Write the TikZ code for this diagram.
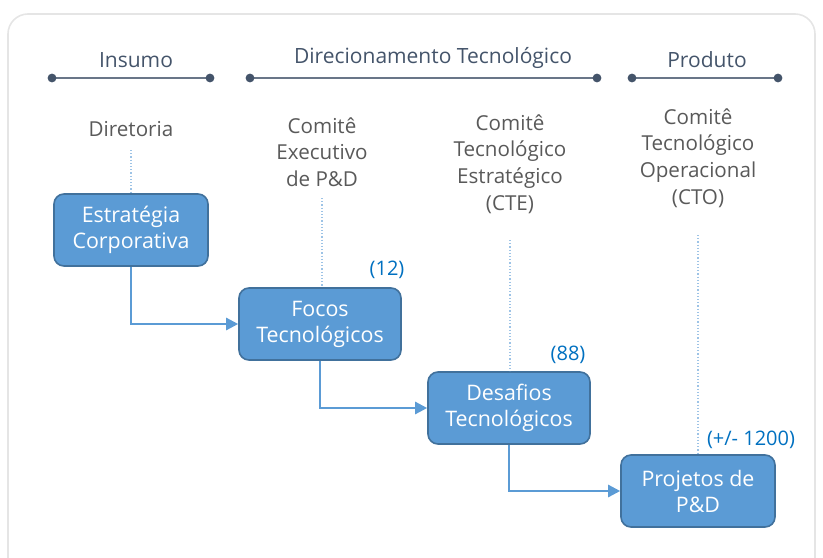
\documentclass[tikz,border=0pt]{standalone}
\usepackage{fontspec}
\setmainfont{Open Sans}
\definecolor{boxfill}{HTML}{5B9BD5}
\definecolor{boxline}{HTML}{41719C}
\definecolor{slate}{HTML}{44546A}
\definecolor{labelgray}{HTML}{595959}
\definecolor{numblue}{HTML}{0070C0}
\tikzset{
  stagebox/.style={draw=boxline, line width=0.8pt, fill=boxfill, rounded corners=5pt,
    minimum width=77pt, minimum height=36pt, align=center, text=white,
    font=\fontsize{10.7}{13}\selectfont},
  committee/.style={align=center, text=labelgray, font=\fontsize{10.3}{13.3}\selectfont},
  phase/.style={text=slate, font=\fontsize{10.5}{12}\selectfont},
  count/.style={text=numblue, font=\fontsize{10}{11}\selectfont},
  phaseline/.style={slate!80, line width=1.2pt},
  guide/.style={boxfill!60, densely dotted, line width=0.6pt},
  flow/.style={boxfill, line width=1.2pt, -{Triangle[length=6pt,width=6pt]}}
}
\usetikzlibrary{arrows.meta}
\begin{document}
\begin{tikzpicture}[x=0.5pt, y=-0.5pt]
\useasboundingbox (0,0) rectangle (823,557);
\begin{scope}
\clip (0,0) rectangle (823,557);
\draw[black!10, line width=0.8pt, rounded corners=10pt] (8,14) rectangle (815,580);
\end{scope}

% phases
\node[phase] (p1) at (136,60) {Insumo};
\node[phase] (p2) at (433,58) {Direcionamento Tecnológico};
\node[phase] (p3) at (707,60) {Produto};

\coordinate (l1a) at (52,78);  \coordinate (l1b) at (210,78);
\coordinate (l2a) at (250,78); \coordinate (l2b) at (597,78);
\coordinate (l3a) at (632,78); \coordinate (l3b) at (778,78);
\foreach \a/\b in {l1a/l1b,l2a/l2b,l3a/l3b}{
  \draw[phaseline] (\a)--(\b);
  \fill[slate] (\a) circle (2.2pt) (\b) circle (2.2pt);
}

% committees
\node[committee] (c1) at (131,129) {Diretoria};
\node[committee] (c2) at (322,152) {Comitê\\Executivo\\de P\&D};
\node[committee] (c3) at (510,164) {Comitê\\Tecnológico\\Estratégico\\(CTE)};
\node[committee] (c4) at (698,158) {Comitê\\Tecnológico\\Operacional\\(CTO)};

% stages
\node[stagebox] (s1) at (131,230) {Estratégia\\Corporativa};
\node[stagebox, minimum width=81pt] (s2) at (320,324) {Focos\\Tecnológicos};
\node[stagebox, minimum width=81pt] (s3) at (509,408) {Desafios\\Tecnológicos};
\node[stagebox] (s4) at (698,491) {Projetos de\\P\&D};

\node[count] (n2) at (387,270) {(12)};
\node[count] (n3) at (568,355) {(88)};
\node[count] (n4) at (751,440) {(+/- 1200)};

\draw[guide] (131,150) -- (s1.north);
\draw[guide] (322,198) -- (s2.north -| 322,0);
\draw[guide] (510,240) -- (s3.north -| 510,0);
\draw[guide] (698,235) -- (s4.north);

\begin{scope}[flow]
\draw (s1.south) |- (s2.west);
\draw (s2.south) |- (s3.west);
\draw (s3.south) |- (s4.west);
\end{scope}
\end{tikzpicture}
\end{document}
